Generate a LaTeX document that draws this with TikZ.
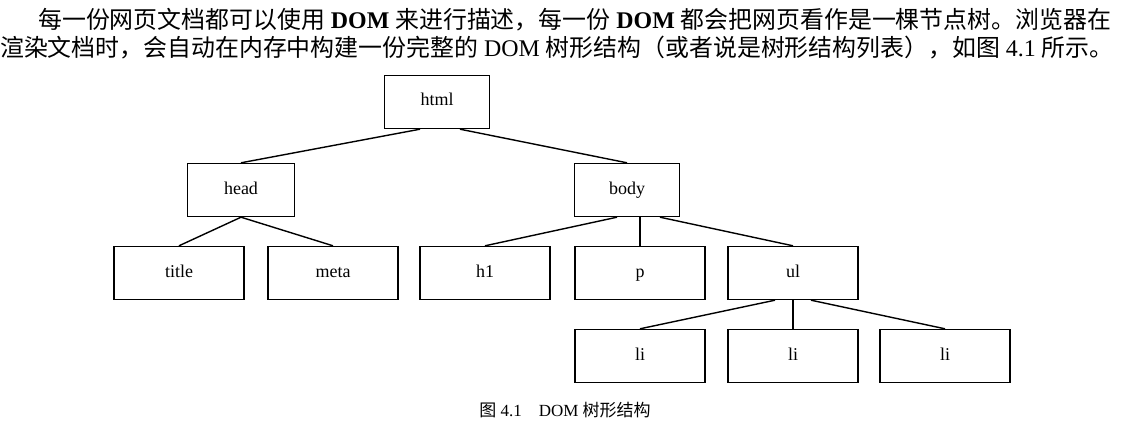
\documentclass[tikz,border=0pt]{standalone}
\usepackage{fontspec}
\setmainfont{Liberation Serif}
\newfontfamily\cjk{Noto Sans CJK SC}
\begin{document}
\begin{tikzpicture}[x=1pt,y=-1pt]
    \tikzset{treebox/.style={draw, line width=1.4pt, minimum height=53pt, inner sep=0pt, text height=12pt, text depth=4pt, font=\fontsize{18}{20}\selectfont},
      para/.style={anchor=west, inner sep=0pt, font=\fontsize{23.9}{26}\selectfont}}
    \useasboundingbox (0,0) rectangle (1127,433);
    \node[para] (line_1) at (38,20) {{\cjk 每一份网页文档都可以使用} \textbf{DOM} {\cjk 来进行描述，每一份} \textbf{DOM} {\cjk 都会把网页看作是一棵节点树。浏览器在}};
    \node[para] (line_2) at (0,48) {{\cjk 渲染文档时，会自动在内存中构建一份完整的} DOM {\cjk 树形结构（或者说是树形结构列表），如图} 4.1 {\cjk 所示。}};

    \node[treebox, minimum width=105pt] (html) at (437,102) {html};
    \node[treebox, minimum width=107pt] (head) at (241,190) {head};
    \node[treebox, minimum width=105pt] (body) at (627,190) {body};
    \node[treebox, minimum width=130pt] (title) at (179,273) {title};
    \node[treebox, minimum width=130pt] (meta) at (333,273) {meta};
    \node[treebox, minimum width=130pt] (h1) at (485,273) {h1};
    \node[treebox, minimum width=130pt] (p) at (640,273) {p};
    \node[treebox, minimum width=130pt] (ul) at (793,273) {ul};
    \node[treebox, minimum width=130pt] (li_1) at (640,356) {li};
    \node[treebox, minimum width=130pt] (li_2) at (793,356) {li};
    \node[treebox, minimum width=130pt] (li_3) at (945,356) {li};
    \node[inner sep=0pt, font=\fontsize{17}{20}\selectfont] (caption) at (565,410) {{\cjk 图} 4.1\quad DOM {\cjk 树形结构}};

    \draw[line width=1.4pt] ([xshift=-17pt]html.south) -- (head.north);
    \draw[line width=1.4pt] ([xshift=23pt]html.south) -- (body.north);
    \draw[line width=1.4pt] (head.south) -- (title.north);
    \draw[line width=1.4pt] (head.south) -- (meta.north);
    \draw[line width=1.4pt] ([xshift=-10pt]body.south) -- (h1.north);
    \draw[line width=1.4pt] ([xshift=13pt]body.south) -- (p.north);
    \draw[line width=1.4pt] ([xshift=33pt]body.south) -- (ul.north);
    \draw[line width=1.4pt] ([xshift=-18pt]ul.south) -- (li_1.north);
    \draw[line width=1.4pt] (ul.south) -- (li_2.north);
    \draw[line width=1.4pt] ([xshift=18pt]ul.south) -- (li_3.north);
\end{tikzpicture}
\end{document}
